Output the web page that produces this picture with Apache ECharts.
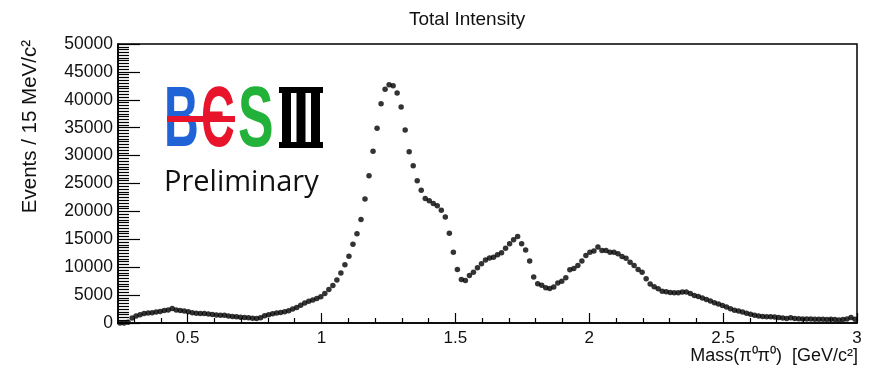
<!DOCTYPE html>
<html>
<head>
<meta charset="utf-8">
<script src="https://cdn.jsdelivr.net/npm/echarts@6/dist/echarts.min.js"></script>
<style>
html,body{margin:0;padding:0;background:#fff;}
#chart{width:877px;height:371px;}
</style>
</head>
<body>
<div id="chart"></div>
<script>
// Histogram: 15 MeV bins starting at 0.24 GeV
const binStart = 0.24;
const binWidth = 0.015;
const counts = [
0,0,150,900,1250,1500,1700,1780,1850,1960,
2080,2240,2350,2600,2350,2250,2150,2000,1830,1750,
1700,1690,1600,1520,1440,1380,1380,1250,1180,1100,
1050,1000,930,850,800,950,1300,1500,1680,1800,
1900,2000,2200,2500,2800,3200,3600,3900,4100,4400,
4700,5300,6000,6700,7700,8950,10450,11950,14100,16000,
18550,22200,26400,30800,34900,39300,41900,42700,42500,41200,
38700,34600,30700,28200,25500,23800,22300,21900,21400,21000,
20200,19000,16100,12700,9600,7800,7600,8500,9100,9900,
10600,11300,11650,11800,12250,12600,13400,14200,14900,15500,
14200,13100,11100,8250,7050,6750,6300,6200,6450,7150,
7500,8100,9550,9750,10300,11100,12100,12700,12900,13600,
13000,13000,12700,12700,12400,11900,11600,10900,10300,9600,
9100,7950,7000,6500,6150,5700,5580,5460,5400,5400,
5550,5550,5300,4950,4750,4500,4200,3950,3650,3400,
3150,2850,2550,2300,2150,1950,1750,1550,1400,1250,
1150,1120,1100,1080,1000,900,820,950,800,780,
720,700,720,680,650,660,640,650,620,550,
640,700,1000,650
];
const xMajorTicks = [0.5, 1, 1.5, 2, 2.5, 3];
const xMinorTicks = [0.3,0.4,0.6,0.7,0.8,0.9,1.1,1.2,1.3,1.4,1.6,1.7,1.8,1.9,2.1,2.2,2.3,2.4,2.6,2.7,2.8,2.9];
const titleText = 'Total Intensity';
const xTitle = 'Mass(\u03c0\u2070\u03c0\u2070)  [GeV/c\u00b2]';
const yTitle = 'Events / 15 MeV/c\u00b2';

const points = counts.map((v, i) => [binStart + binWidth * (i + 0.5), v]);

const FONT = '"Liberation Sans", Arial, Helvetica, sans-serif';
const chart = echarts.init(document.getElementById('chart'));
chart.setOption({
  animation: false,
  backgroundColor: '#ffffff',
  title: {
    text: titleText, left: 404, top: 5,
    textStyle: {fontFamily: FONT, fontSize: 19, fontWeight: 'normal', color: '#111'}
  },
  grid: {left: 118, right: 20, top: 44, bottom: 48, show: true, borderColor: '#000', borderWidth: 1.5, backgroundColor: 'transparent'},
  xAxis: [{
    type: 'value', min: 0.24, max: 3,
    axisLine: {show: true, lineStyle: {color: '#000', width: 1.5}},
    axisTick: {show: true, inside: true, length: 10, customValues: xMajorTicks, lineStyle: {color: '#000', width: 1.2}},
    axisLabel: {customValues: xMajorTicks, fontFamily: FONT, fontSize: 17, color: '#111', margin: 7},
    splitLine: {show: false}
  }, {
    type: 'value', min: 0.24, max: 3, position: 'bottom',
    axisLine: {show: false},
    axisTick: {show: true, inside: true, length: 5, customValues: xMinorTicks, lineStyle: {color: '#000', width: 1.2}},
    axisLabel: {show: false},
    splitLine: {show: false}
  }],
  yAxis: {
    type: 'value', min: 0, max: 50000, interval: 5000,
    axisLine: {show: true, lineStyle: {color: '#000', width: 1.5}},
    axisTick: {show: true, inside: true, length: 22, lineStyle: {color: '#000', width: 1.2}},
    minorTick: {show: true, splitNumber: 10, length: 11, lineStyle: {color: '#000', width: 1.2}},
    axisLabel: {fontFamily: FONT, fontSize: 17.5, color: '#111', margin: 5, formatter: v => String(v)},
    splitLine: {show: false}
  },
  series: [{
    type: 'scatter', xAxisIndex: 0, data: points,
    symbol: 'circle', symbolSize: 5.5,
    itemStyle: {color: '#000'}
  }],
  graphic: [
    {type: 'text', x: 858, y: 356, style: {text: xTitle, fontFamily: FONT, fontSize: 18, fill: '#111', align: 'right', verticalAlign: 'middle', textAlign: 'right', textVerticalAlign: 'middle'}},
    {type: 'text', x: 30, y: 40, rotation: Math.PI / 2, style: {text: yTitle, fontFamily: FONT, fontSize: 20.5, fill: '#111', align: 'right', verticalAlign: 'middle', textAlign: 'right', textVerticalAlign: 'middle'}},
    // BESIII logo
    {type: 'rect', shape: {x: 167, y: 116, width: 68, height: 6}, style: {fill: '#e8142c'}, z: 10},
    {type: 'text', x: 164, y: 122, scaleX: 0.56, z: 9, style: {text: 'B', fontFamily: FONT, fontWeight: 'bold', fontSize: 86, fill: '#1f63d6', align: 'left', verticalAlign: 'middle', textAlign: 'left', textVerticalAlign: 'middle'}},
    {type: 'text', x: 201, y: 122, scaleX: 0.55, z: 9, style: {text: '\u0404', fontFamily: FONT, fontWeight: 'bold', fontSize: 86, fill: '#e8142c', align: 'left', verticalAlign: 'middle', textAlign: 'left', textVerticalAlign: 'middle'}},
    {type: 'text', x: 238, y: 122, scaleX: 0.62, z: 9, style: {text: 'S', fontFamily: FONT, fontWeight: 'bold', fontSize: 86, fill: '#22b23a', align: 'left', verticalAlign: 'middle', textAlign: 'left', textVerticalAlign: 'middle'}},
    {type: 'rect', shape: {x: 279, y: 87, width: 44, height: 6}, style: {fill: '#000'}},
    {type: 'rect', shape: {x: 279, y: 142, width: 44, height: 6}, style: {fill: '#000'}},
    {type: 'rect', shape: {x: 282, y: 87, width: 9, height: 61}, style: {fill: '#000'}},
    {type: 'rect', shape: {x: 296.5, y: 87, width: 9, height: 61}, style: {fill: '#000'}},
    {type: 'rect', shape: {x: 311, y: 87, width: 9, height: 61}, style: {fill: '#000'}},
    {type: 'text', x: 164, y: 183, style: {text: 'Preliminary', fontFamily: '"Open Sans", "Noto Sans", sans-serif', fontSize: 29, fill: '#111', align: 'left', verticalAlign: 'middle', textAlign: 'left', textVerticalAlign: 'middle'}}
  ]
});
</script>
</body>
</html>
